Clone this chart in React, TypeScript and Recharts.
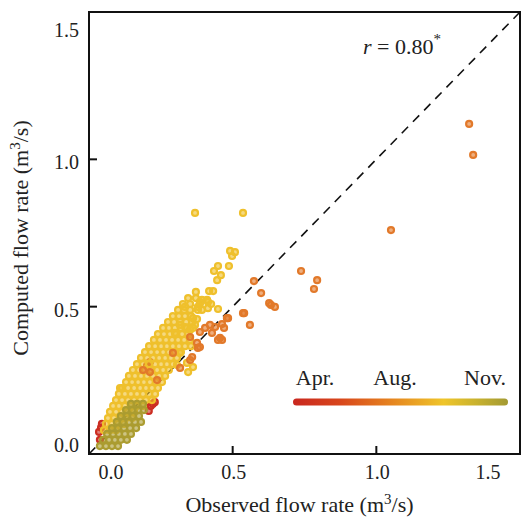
import React from 'react';
import {
  ScatterChart,
  Scatter,
  XAxis,
  YAxis,
  ReferenceLine,
  ReferenceArea
} from 'recharts';

const axisTicks = [0, 0.5, 1.0, 1.5];
const monthLabels = ['Apr.', 'Aug.', 'Nov.'];
const correlation = 0.8;

// [observed, computed] flow rates (m3/s), grouped by season colour
const aprilPoints: [number, number][] = [
  [0.035, 0.075], [0.045, 0.102], [0.038, 0.048], [0.042, 0.09],
  [0.215, 0.163], [0.229, 0.176], [0.208, 0.146], [0.222, 0.17],
  [0.212, 0.312], [0.202, 0.299]
];

const augustPoints: [number, number][] = [
  [0.052, 0.081], [0.073, 0.081], [0.094, 0.081],
  [0.059, 0.102], [0.08, 0.102], [0.101, 0.102], [0.122, 0.102],
  [0.066, 0.122], [0.087, 0.122], [0.108, 0.122], [0.129, 0.122], [0.15, 0.122],
  [0.073, 0.143], [0.094, 0.143], [0.115, 0.143], [0.136, 0.143], [0.157, 0.143],
  [0.084, 0.163], [0.104, 0.163], [0.125, 0.163], [0.146, 0.163], [0.167, 0.163], [0.188, 0.163],
  [0.094, 0.183], [0.115, 0.183], [0.136, 0.183], [0.157, 0.183], [0.178, 0.183], [0.198, 0.183], [0.219, 0.183],
  [0.104, 0.204], [0.125, 0.204], [0.146, 0.204], [0.167, 0.204], [0.188, 0.204], [0.209, 0.204], [0.23, 0.204],
  [0.115, 0.224], [0.136, 0.224], [0.157, 0.224], [0.178, 0.224], [0.198, 0.224], [0.219, 0.224], [0.24, 0.224],
  [0.129, 0.244], [0.15, 0.244], [0.171, 0.244], [0.191, 0.244], [0.212, 0.244], [0.233, 0.244], [0.254, 0.244],
  [0.139, 0.265], [0.16, 0.265], [0.181, 0.265], [0.202, 0.265], [0.223, 0.265], [0.244, 0.265], [0.265, 0.265],
  [0.153, 0.285], [0.174, 0.285], [0.195, 0.285], [0.216, 0.285], [0.237, 0.285], [0.258, 0.285], [0.278, 0.285],
  [0.167, 0.305], [0.188, 0.305], [0.209, 0.305], [0.23, 0.305], [0.251, 0.305], [0.271, 0.305], [0.292, 0.305],
  [0.181, 0.326], [0.202, 0.326], [0.223, 0.326], [0.244, 0.326], [0.265, 0.326], [0.285, 0.326], [0.306, 0.326],
  [0.195, 0.346], [0.216, 0.346], [0.237, 0.346], [0.258, 0.346], [0.278, 0.346], [0.299, 0.346], [0.32, 0.346],
  [0.209, 0.366], [0.23, 0.366], [0.251, 0.366], [0.271, 0.366], [0.292, 0.366], [0.313, 0.366], [0.334, 0.366], [0.355, 0.366],
  [0.226, 0.387], [0.247, 0.387], [0.268, 0.387], [0.289, 0.387], [0.31, 0.387], [0.331, 0.387], [0.352, 0.387],
  [0.24, 0.407], [0.261, 0.407], [0.282, 0.407], [0.303, 0.407], [0.324, 0.407], [0.345, 0.407],
  [0.258, 0.428], [0.278, 0.428], [0.299, 0.428], [0.32, 0.428], [0.341, 0.428], [0.362, 0.428],
  [0.275, 0.448], [0.296, 0.448], [0.317, 0.448], [0.338, 0.448], [0.359, 0.448],
  [0.292, 0.468], [0.313, 0.468], [0.334, 0.468], [0.355, 0.468],
  [0.31, 0.489], [0.331, 0.489], [0.352, 0.489], [0.379, 0.489],
  [0.327, 0.509], [0.352, 0.509], [0.386, 0.509],
  [0.345, 0.529], [0.372, 0.529],
  [0.369, 0.818], [0.536, 0.818], [0.491, 0.689], [0.508, 0.685], [0.498, 0.672],
  [0.487, 0.638], [0.449, 0.638], [0.435, 0.621], [0.459, 0.607], [0.446, 0.59],
  [0.372, 0.55], [0.418, 0.553], [0.432, 0.553], [0.393, 0.523], [0.411, 0.523],
  [0.425, 0.509], [0.334, 0.499], [0.379, 0.499], [0.393, 0.489], [0.449, 0.492],
  [0.362, 0.461], [0.376, 0.458], [0.317, 0.438], [0.334, 0.431], [0.369, 0.438],
  [0.299, 0.411], [0.352, 0.421], [0.108, 0.224], [0.341, 0.309], [0.362, 0.295],
  [0.345, 0.278], [0.306, 0.302], [0.317, 0.343], [0.386, 0.516], [0.414, 0.495],
  [0.414, 0.516]
];

const junePoints: [number, number][] = [
  [0.574, 0.587], [0.599, 0.546], [0.627, 0.512], [0.633, 0.506], [0.647, 0.499],
  [0.54, 0.478], [0.56, 0.438], [0.484, 0.461], [0.421, 0.438], [0.404, 0.428],
  [0.439, 0.431], [0.463, 0.441], [0.47, 0.428], [0.428, 0.411], [0.456, 0.394],
  [0.463, 0.387], [0.449, 0.387], [0.48, 0.461], [0.536, 0.478], [0.386, 0.414],
  [0.379, 0.36], [0.359, 0.329], [0.376, 0.377], [0.386, 0.363], [0.352, 0.397],
  [0.352, 0.319], [0.317, 0.292], [0.292, 0.343], [0.237, 0.251], [0.212, 0.278],
  [0.188, 0.285], [0.738, 0.621], [0.794, 0.59], [0.783, 0.56], [1.051, 0.76],
  [1.323, 1.12], [1.337, 1.015]
];

const novemberPoints: [number, number][] = [
  [0.038, 0.027], [0.059, 0.027], [0.08, 0.027], [0.101, 0.027],
  [0.049, 0.048], [0.07, 0.048], [0.09, 0.048], [0.111, 0.048], [0.132, 0.048],
  [0.063, 0.068], [0.084, 0.068], [0.104, 0.068], [0.125, 0.068], [0.146, 0.068],
  [0.08, 0.088], [0.101, 0.088], [0.122, 0.088], [0.143, 0.088], [0.164, 0.088],
  [0.097, 0.109], [0.118, 0.109], [0.139, 0.109], [0.16, 0.109], [0.181, 0.109],
  [0.111, 0.129], [0.132, 0.129], [0.153, 0.129], [0.174, 0.129],
  [0.129, 0.149], [0.15, 0.149], [0.171, 0.149], [0.191, 0.149],
  [0.146, 0.17], [0.167, 0.17], [0.188, 0.17]
];

const FONT = "'Liberation Serif', 'Times New Roman', serif";

const toRows = (pts: [number, number][]) => pts.map(([obs, comp]) => ({ obs, comp }));

const ring = (color: string) => (props: any) => (
  <circle
    cx={props.cx}
    cy={props.cy}
    r={3}
    fill={color}
    fillOpacity={0.6}
    stroke={color}
    strokeWidth={2.2}
  />
);

const XTick = ({ x, y, payload }: any) => {
  const v = payload.value;
  const shift = v === 0 ? 22 : v === 1.5 ? -32 : 1;
  return (
    <g>
      <line x1={x} y1={y} x2={x} y2={y - 8} stroke="#111" strokeWidth={2} />
      <text x={x + shift} y={y + 25} textAnchor="middle" fontSize={20} fill="#222" fontFamily={FONT}>
        {v.toFixed(1)}
      </text>
    </g>
  );
};

const YTick = ({ x, y, payload }: any) => {
  const v = payload.value;
  const dy = v === 0 ? -2 : v === 1.5 ? 25 : 10;
  return (
    <g>
      <line x1={x} y1={y} x2={x + 8} y2={y} stroke="#111" strokeWidth={2} />
      <text x={x - 10} y={y + dy} textAnchor="end" fontSize={20} fill="#222" fontFamily={FONT}>
        {v.toFixed(1)}
      </text>
    </g>
  );
};

const XTitle = (props: any) => {
  const { viewBox } = props;
  return (
    <text x={viewBox.x + viewBox.width / 2 - 5} y={viewBox.y + 58} textAnchor="middle" fontSize={22} fill="#222" fontFamily={FONT}>
      Observed flow rate (m<tspan dy={-8} fontSize={15}>3</tspan><tspan dy={8}>/s)</tspan>
    </text>
  );
};

const YTitle = (props: any) => {
  const { viewBox } = props;
  const cx = 28;
  const cy = viewBox.y + viewBox.height / 2 + 5;
  return (
    <text x={cx} y={cy} transform={`rotate(-90 ${cx} ${cy})`} textAnchor="middle" fontSize={22} fill="#222" fontFamily={FONT}>
      Computed flow rate (m<tspan dy={-8} fontSize={15}>3</tspan><tspan dy={8}>/s)</tspan>
    </text>
  );
};

export default function App() {
  return (
    <div style={{ position: 'absolute', left: 0, top: 0, width: 532, height: 517, background: '#fff' }}>
      <ScatterChart width={532} height={517} margin={{ top: 12, right: 12, bottom: 13, left: 29 }}>
        <XAxis
          type="number"
          dataKey="obs"
          domain={[0, 1.5]}
          ticks={axisTicks}
          allowDataOverflow
          axisLine={false}
          tickLine={false}
          tickSize={0}
          tickMargin={0}
          height={50}
          tick={<XTick />}
          label={XTitle}
        />
        <YAxis
          type="number"
          dataKey="comp"
          domain={[0, 1.5]}
          ticks={axisTicks}
          allowDataOverflow
          axisLine={false}
          tickLine={false}
          tickSize={0}
          tickMargin={0}
          width={60}
          tick={<YTick />}
          label={YTitle}
        />
        <Scatter data={toRows(aprilPoints)} shape={ring('#cc2e22')} isAnimationActive={false} />
        <Scatter data={toRows(augustPoints)} shape={ring('#efc02c')} isAnimationActive={false} />
        <Scatter data={toRows(junePoints)} shape={ring('#e2792a')} isAnimationActive={false} />
        <Scatter data={toRows(novemberPoints)} shape={ring('#ab9c30')} isAnimationActive={false} />
        <ReferenceLine
          segment={[{ x: 0, y: 0 }, { x: 1.5, y: 1.5 }]}
          stroke="#111"
          strokeWidth={1.6}
          strokeDasharray="9 7"
        />
        <ReferenceArea x1={0} x2={1.5} y1={0} y2={1.5} fill="none" stroke="#111" strokeWidth={2} />
      </ScatterChart>
      <svg width={532} height={517} style={{ position: 'absolute', left: 0, top: 0, pointerEvents: 'none' }}>
        <defs>
          <linearGradient id="monthGrad" x1="0" x2="1" y1="0" y2="0">
            <stop offset="0%" stopColor="#c9271f" />
            <stop offset="22%" stopColor="#d8461c" />
            <stop offset="45%" stopColor="#e5821f" />
            <stop offset="70%" stopColor="#efc52a" />
            <stop offset="85%" stopColor="#c9b22e" />
            <stop offset="100%" stopColor="#a39a33" />
          </linearGradient>
        </defs>
        <rect x={293} y={398.5} width={215} height={7} rx={3.5} fill="url(#monthGrad)" />
        {monthLabels.map((m, i) => (
          <text key={m} x={[315, 395, 485][i]} y={385} textAnchor="middle" fontSize={22} fill="#222" fontFamily={FONT}>
            {m}
          </text>
        ))}
        <text x={363} y={54} fontSize={22} fill="#222" fontFamily={FONT}>
          <tspan fontStyle="italic">r</tspan> = {correlation.toFixed(2)}
          <tspan dy={-10} fontSize={15}>*</tspan>
        </text>
      </svg>
    </div>
  );
}
